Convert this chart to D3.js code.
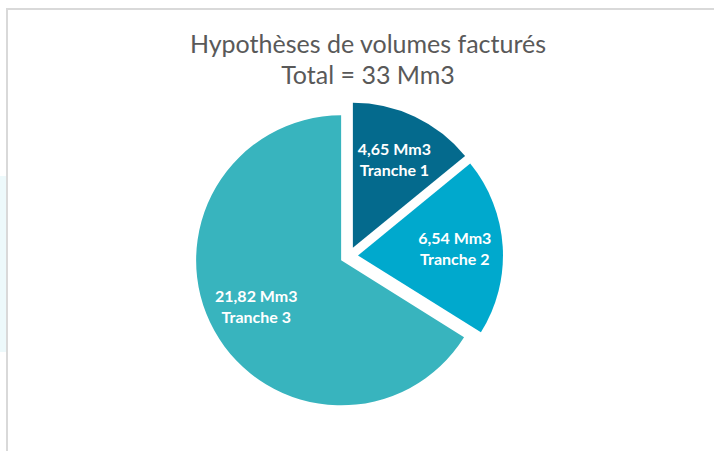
<!DOCTYPE html>
<html lang="fr">
<head>
  <meta charset="utf-8">
  <title>Hypothèses de volumes facturés</title>
  <script src="https://cdn.jsdelivr.net/npm/d3@7"></script>
  <style>
    html, body { margin: 0; padding: 0; background: #fff; }
    svg { display: block; }
  </style>
</head>
<body>
  <svg id="chart" width="714" height="451"></svg>

  <script>
    // Data
    const tranches = ["Tranche 1", "Tranche 2", "Tranche 3"];
    const volumes  = [4.65, 6.54, 21.82];
    const colors   = ["#046a8d", "#00a9cd", "#38b4be"];
    const titleLines = ["Hypothèses de volumes facturés", "Total = 33 Mm3"];

    const width = 714, height = 451;
    const svg = d3.select("#chart");

    // faint panel bleeding in on the left + chart frame (top / left)
    svg.append("rect")
      .attr("x", 0).attr("y", 176)
      .attr("width", 6).attr("height", 176)
      .attr("fill", "#edf9fb");

    svg.append("path")
      .attr("d", `M7,${height} V9 H${width}`)
      .attr("fill", "none")
      .attr("stroke", "#d9d9d9")
      .attr("stroke-width", 2);

    // Title
    svg.append("g")
      .selectAll("text")
      .data(titleLines)
      .join("text")
        .attr("x", 368)
        .attr("y", (d, i) => 53 + i * 31)
        .attr("text-anchor", "middle")
        .attr("font-family", "Lato, 'Open Sans', sans-serif")
        .attr("font-weight", 400)
        .attr("font-size", 25)
        .attr("fill", "#595959")
        .text(d => d);

    // Pie
    const cx = 349, cy = 256, r = 145, explode = 9;
    const pie = d3.pie().sort(null).value(d => d);
    const arcs = pie(volumes);
    const arc = d3.arc().innerRadius(0).outerRadius(r);
    const labelArc = d3.arc().innerRadius(97).outerRadius(97);

    const offset = d => {
      const a = (d.startAngle + d.endAngle) / 2;
      return [Math.sin(a) * explode, -Math.cos(a) * explode];
    };

    const g = svg.append("g").attr("transform", `translate(${cx},${cy})`);

    const slices = g.selectAll("g.slice")
      .data(arcs)
      .join("g")
        .attr("class", "slice")
        .attr("transform", d => `translate(${offset(d)})`);

    slices.append("path")
      .attr("d", arc)
      .attr("fill", (d, i) => colors[i]);

    const fmt = v => v.toFixed(2).replace(".", ",") + " Mm3";

    slices.append("text")
      .attr("transform", d => `translate(${labelArc.centroid(d)})`)
      .attr("text-anchor", "middle")
      .attr("font-family", "Lato, 'Open Sans', sans-serif")
      .attr("font-weight", 700)
      .attr("font-size", 16)
      .attr("fill", "#fff")
      .selectAll("tspan")
      .data((d, i) => [fmt(d.data), tranches[i]])
      .join("tspan")
        .attr("x", 0)
        .attr("y", (d, i) => i === 0 ? -5 : 16)
        .text(d => d);
  </script>
</body>
</html>
